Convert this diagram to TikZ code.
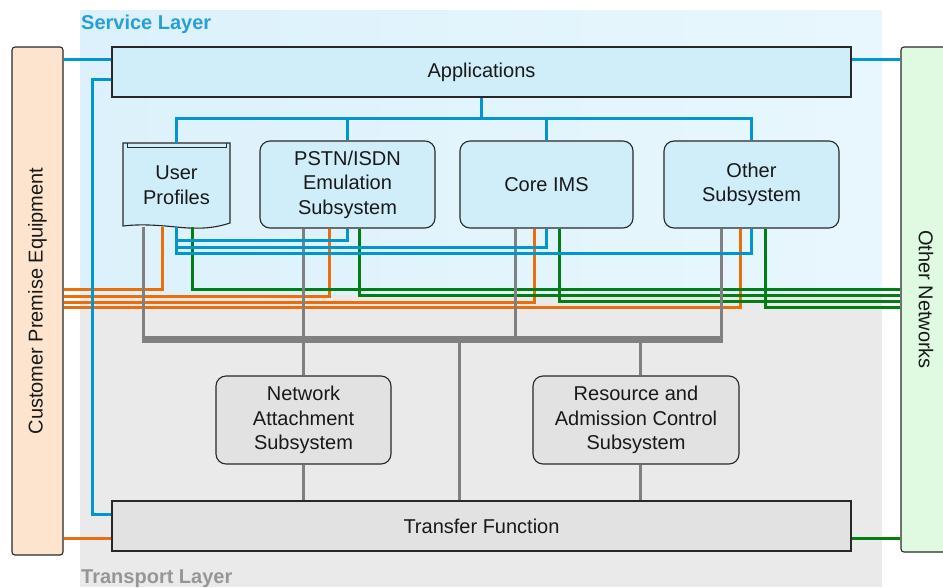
\documentclass[tikz,border=0pt]{standalone}
\usepackage{fontspec}
\setmainfont{Liberation Sans}
\usepackage{tikz}
\usepackage{xcolor}

\definecolor{svcbgl}{RGB}{220,241,251}
\definecolor{svcbgr}{RGB}{232,247,253}
\definecolor{svcfill}{RGB}{208,237,250}
\definecolor{trbg}{RGB}{234,234,234}
\definecolor{trfill}{RGB}{226,226,226}
\definecolor{cpefill}{RGB}{253,228,206}
\definecolor{onetfill}{RGB}{224,250,226}
\definecolor{boxedge}{RGB}{40,40,40}
\definecolor{lnblue}{RGB}{0,150,210}
\definecolor{lnorange}{RGB}{236,110,10}
\definecolor{lngreen}{RGB}{0,128,20}
\definecolor{lngray}{RGB}{128,128,128}
\definecolor{svctext}{RGB}{40,160,215}
\definecolor{trtext}{RGB}{150,150,150}

\begin{document}
\begin{tikzpicture}[x=1pt, y=-1pt,
  txt/.style={font=\fontsize{20}{24.5}\selectfont, text=black!90},
  box/.style={txt, draw=boxedge, line width=1.1pt, align=center, inner sep=0pt},
  subsys/.style={box, fill=svcfill, rounded corners=10pt, minimum width=175pt, minimum height=87pt},
  trsys/.style={box, fill=trfill, rounded corners=10pt, minimum height=88pt},
  bar/.style={box, minimum width=739pt, minimum height=50pt},
  sidebox/.style={box, rounded corners=3pt, minimum height=51pt},
  layerlbl/.style={font=\fontsize{20}{24}\selectfont\bfseries, anchor=base west, inner sep=0pt},
  blueln/.style={draw=lnblue, line width=3pt},
  orangeln/.style={draw=lnorange, line width=3pt},
  greenln/.style={draw=lngreen, line width=3pt},
  grayln/.style={draw=lngray, line width=3pt},
  busln/.style={draw=lngray, line width=7pt}]
\useasboundingbox (0,0) rectangle (943,587);

% layers
\shade[left color=svcbgl, right color=svcbgr] (80,10) rectangle (882,295);
\fill[trbg] (80,295) rectangle (882,587);
\node[layerlbl, text=svctext] (svclbl) at (81,29) {Service Layer};
\node[layerlbl, text=trtext] (trlbl) at (81,583) {Transport Layer};

% outer boxes (rotated: south of cpe and of onet face the middle)
\node[sidebox, fill=cpefill, minimum width=508pt, rotate=90] (cpe) at (37.5,301) {Customer Premise Equipment};
\node[sidebox, fill=onetfill, minimum width=505pt, minimum height=50pt, rotate=-90] (onet) at (926,299.5) {Other Networks};

% service layer
\node[txt, align=center, inner sep=0pt, minimum width=107pt, minimum height=84pt] (up) at (176.5,185) {};
\filldraw[fill=svcfill, draw=boxedge, line width=1.1pt] (123,143) -- (230,143) -- (230,223)
  .. controls (212,229) and (196,229) .. (176,227)
  .. controls (156,225) and (140,224) .. (123,226) -- cycle;
\draw[boxedge, line width=0.9pt] (127,143) -- (127,147.5) -- (226,147.5) -- (226,143);
\node[txt, align=center] at (up) {User\\Profiles};
\node[bar, fill=svcfill] (app) at (481.5,72) {Applications};
\node[subsys] (pstn) at (347.5,184.5) {PSTN/ISDN\\Emulation\\Subsystem};
\node[subsys, minimum width=173pt] (ims) at (546.5,184.5) {Core IMS};
\node[subsys] (oth) at (751.5,184.5) {Other\\Subsystem};

% transport layer
\node[trsys, minimum width=175pt] (nas) at (303.5,420) {Network\\Attachment\\Subsystem};
\node[trsys, minimum width=206pt] (racs) at (636,420) {Resource and\\Admission Control\\Subsystem};
\node[bar, fill=trfill] (tf) at (481.5,526) {Transfer Function};

% orange and green links
\draw[orangeln] (cpe.south |- 0,289) -| (162,0 |- up.south);
\draw[orangeln] (cpe.south |- 0,296) -| (329,0 |- pstn.south);
\draw[orangeln] (cpe.south |- 0,302) -| (534,0 |- ims.south);
\draw[orangeln] (cpe.south |- 0,307) -| (740,0 |- oth.south);
\draw[orangeln] (cpe.south |- 0,538) -- (tf.west |- 0,538);
\draw[greenln] (192,0 |- up.south) |- (onet.south |- 0,289);
\draw[greenln] (359,0 |- pstn.south) |- (onet.south |- 0,295);
\draw[greenln] (559,0 |- ims.south) |- (onet.south |- 0,301);
\draw[greenln] (765,0 |- oth.south) |- (onet.south |- 0,307);
\draw[greenln] (tf.east |- 0,538) -- (onet.south |- 0,538);

% gray bus
\coordinate (bus) at (0,339.5);
\draw[busln] (141.5,0 |- bus) -- (722.5,0 |- bus);
\draw[grayln] (143,0 |- up.south) -- (143,0 |- bus);
\draw[grayln] (nas.north |- pstn.south) -- (nas.north);
\draw[grayln] (515,0 |- ims.south) -- (515,0 |- bus);
\draw[grayln] (721,0 |- oth.south) -- (721,0 |- bus);
\draw[grayln] (459,0 |- bus) -- (459,0 |- tf.north);
\draw[grayln] (640,0 |- bus) -- (640,0 |- racs.north);
\draw[grayln] (nas.south) -- (nas.south |- tf.north);
\draw[grayln] (640,0 |- racs.south) -- (640,0 |- tf.north);

% blue links
\coordinate (bt) at (0,118);
\draw[blueln] (cpe.south |- 0,59) -- (app.west |- 0,59);
\draw[blueln] (app.west |- 0,79) -- (92,79) |- (tf.west |- 0,514);
\draw[blueln] (app.east |- 0,59) -- (onet.south |- 0,59);
\draw[blueln] (app.south) -- (app.south |- bt);
\draw[blueln] (up.north) |- (oth.north |- bt) -- (oth.north);
\draw[blueln] (pstn.north) -- (pstn.north |- bt);
\draw[blueln] (ims.north) -- (ims.north |- bt);
\draw[blueln] (up.south) |- (pstn.south |- 0,240) -- (pstn.south);
\draw[blueln] (up.south) |- (ims.south |- 0,247) -- (ims.south);
\draw[blueln] (up.south) |- (oth.south |- 0,253) -- (oth.south);
\end{tikzpicture}
\end{document}
